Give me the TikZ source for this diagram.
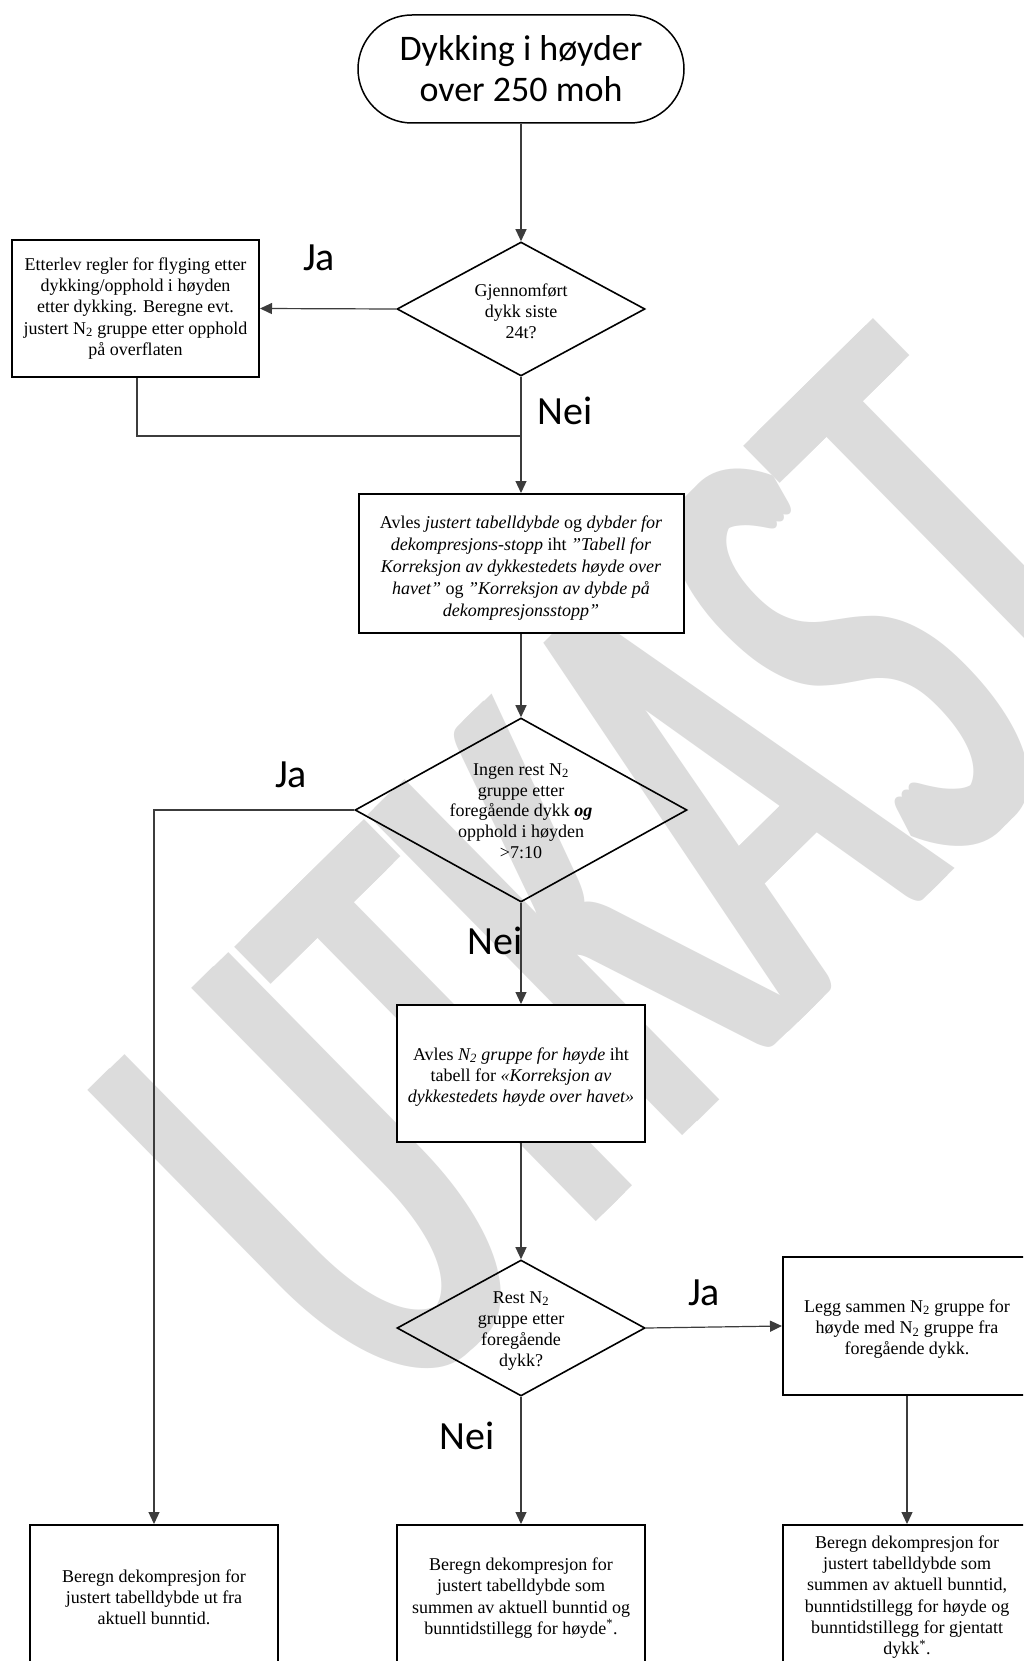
\documentclass[tikz,border=0pt]{standalone}
\usepackage{graphicx}
\usepackage{fontspec}
\setmainfont{Liberation Serif}
\newfontfamily\calib{Carlito}
\usetikzlibrary{arrows.meta,shapes.geometric}
\definecolor{wm}{HTML}{DCDCDC}
\definecolor{conncol}{HTML}{3C3C3C}
\newcommand*\wmword{\calib\fontsize{700}{700}\selectfont\scalebox{0.5}[1]{UTKAST}}
\begin{document}
\begin{tikzpicture}[x=1pt,y=-1pt,
  box/.style={draw=black, line width=2pt, fill=white, rectangle, inner sep=0pt,
    minimum width=248pt, minimum height=138pt, align=center,
    font=\fontsize{18}{21.2}\selectfont},
  dia/.style={draw=black, line width=1.6pt, diamond, inner sep=0pt},
  txt/.style={align=center, inner sep=0pt, font=\fontsize{18}{21.2}\selectfont},
  lbl/.style={inner sep=0pt, font=\calib\fontsize{40}{40}\selectfont},
  conn/.style={draw=conncol, line width=1.2pt},
  arr/.style={conn, -{Triangle[length=12pt,width=11pt]}},
]
\useasboundingbox (0,0) rectangle (1023,1661);
\clip (0,0) rectangle (1023,1661);
\fill[white] (0,0) rectangle (1023,1661);

% watermark
\node[text=wm, rotate=44.5, inner sep=0pt] (wmk) at (631,872)
  {\rlap{\kern-10pt\wmword}\rlap{\kern10pt\wmword}\wmword};

% nodes
\node[draw=black, line width=1.5pt, rounded corners=54pt, fill=white,
  minimum width=326pt, minimum height=108pt, align=center, inner sep=0pt,
  font=\calib\fontsize{36}{41}\selectfont] (start) at (521,69)
  {Dykking i høyder\\over 250 moh};

\node[box, minimum width=247pt, minimum height=137pt] (bl) at (135.5,308.5)
  {Etterlev regler for flyging etter\\dykking/opphold i høyden\\etter dykking. Beregne evt.\\justert N\textsubscript{2} gruppe etter opphold\\på overflaten};

\node[dia, minimum width=248pt, minimum height=134pt] (d1) at (521,309) {};
\node[txt] (d1t) at (521,311) {Gjennomført\\dykk siste\\24t?};

\node[box, minimum width=325pt, minimum height=139pt] (b2) at (521,563.5) {};
\node[txt, font=\fontsize{18}{22}\selectfont] (b2t) at (521,568)
  {Avles \textit{justert tabelldybde} og \textit{dybder for}\\
   \textit{dekompresjons-stopp} iht \textit{"Tabell for}\\
   \textit{Korreksjon av dykkestedets høyde over}\\
   \textit{havet"} og \textit{"Korreksjon av dybde på}\\
   \textit{dekompresjonsstopp"}};

\node[dia, minimum width=332pt, minimum height=184pt] (d2) at (521,810) {};
\node[txt, font=\fontsize{18}{20.7}\selectfont] (d2t) at (521,811)
  {Ingen rest N\textsubscript{2}\\gruppe etter\\foregående dykk \textbf{\textit{og}}\\opphold i høyden\\>7:10};

\node[box, minimum height=137pt] (b3) at (521,1073.5) {};
\node[txt] (b3t) at (521,1077)
  {Avles \textit{N\textsubscript{2} gruppe for høyde} iht\\tabell for \textit{«Korreksjon av}\\\textit{dykkestedets høyde over havet»}};

\node[dia, minimum width=248pt, minimum height=136pt] (d3) at (521,1328) {};
\node[txt] (d3t) at (521,1331) {Rest N\textsubscript{2}\\gruppe etter\\foregående\\dykk?};

\node[box] (b4) at (907,1326) {};
\node[txt] (b4t) at (907,1329)
  {Legg sammen N\textsubscript{2} gruppe for\\høyde med N\textsubscript{2} gruppe fra\\foregående dykk.};

\node[box, minimum height=142pt] (b5) at (154,1596) {};
\node[txt] (b5t) at (154,1597)
  {Beregn dekompresjon for\\justert tabelldybde ut fra\\aktuell bunntid.};
\node[box, minimum height=142pt] (b6) at (521,1596) {};
\node[txt] (b6t) at (521,1598)
  {Beregn dekompresjon for\\justert tabelldybde som\\summen av aktuell bunntid og\\bunntidstillegg for høyde\textsuperscript{*}.};
\node[box, minimum height=142pt] (b7) at (907,1596) {};
\node[txt] (b7t) at (907,1597)
  {Beregn dekompresjon for\\justert tabelldybde som\\summen av aktuell bunntid,\\bunntidstillegg for høyde og\\bunntidstillegg for gjentatt\\dykk\textsuperscript{*}.};

% labels
\node[lbl] (ja1) at (319,258) {Ja};
\node[lbl] (nei1) at (565,411) {Nei};
\node[lbl] (ja2) at (291,775) {Ja};
\node[lbl] (nei2) at (495,941) {Nei};
\node[lbl] (ja3) at (704,1293) {Ja};
\node[lbl] (nei3) at (467,1436) {Nei};

% connectors
\coordinate (j1) at (137,436);
\draw[arr] (start.south) -- (d1.north);
\draw[arr] (d1.west) -- (bl.east);
\draw[conn] (bl.south -| j1) -- (j1) -- (j1 -| d1.south);
\draw[arr] (d1.south) -- (b2.north);
\draw[arr] (b2.south) -- (d2.north);
\draw[arr] (d2.west) -| (b5.north);
\draw[arr] (d2.south) -- (b3.north);
\draw[arr] (b3.south) -- (d3.north);
\draw[arr] (d3.east) -- (b4.west);
\draw[arr] (d3.south) -- (b6.north);
\draw[arr] (b4.south) -- (b7.north);
\end{tikzpicture}
\end{document}
